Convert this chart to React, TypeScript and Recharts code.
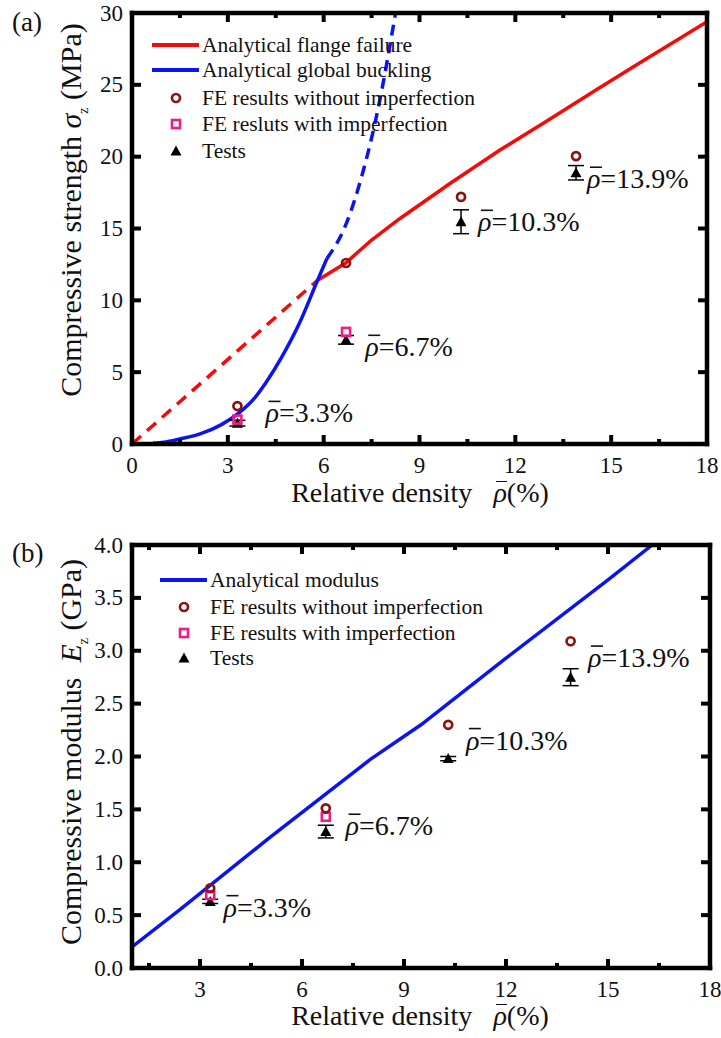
import React from "react";
import { ComposedChart, Line, Scatter, XAxis, YAxis, ErrorBar } from "recharts";

const FONT = "'Liberation Serif', 'Times New Roman', serif";
const RED = "#f50a0a";
const BLUE = "#0a14f0";
const DARKRED = "#8c1111";
const PINK = "#ee1c84";

// (a) compressive strength, MPa
const flangeDashX = [0, 5.81];
const flangeDashY = [0, 11.4];
const flangeX = [5.81, 6.69, 7.5, 8.39, 10, 11.52, 13, 14.5, 15.8, 18];
const flangeY = [11.4, 12.6, 14.2, 15.7, 18.2, 20.46, 22.5, 24.6, 26.4, 29.4];
const bucklingX = [0.66, 1, 1.5, 2.13, 2.8, 3.37, 3.8, 4.2, 4.7, 5.24, 5.81, 6.1];
const bucklingY = [0.05, 0.12, 0.35, 0.7, 1.35, 2.2, 3.1, 4.3, 6.1, 8.4, 11.4, 12.9];
const bucklingDashX = [6.1, 6.7, 7.2, 7.7, 8.25];
const bucklingDashY = [12.9, 15.3, 18.7, 23.3, 30];

const densities = [3.3, 6.7, 10.3, 13.9];
const densityLabels = ["3.3", "6.7", "10.3", "13.9"];

const strengthFE = [2.64, 12.6, 17.2, 20.04];
const strengthFEImpX = [3.3, 6.7];
const strengthFEImp = [1.7, 7.8];
const strengthTest = [1.45, 7.25, 15.47, 18.88];
const strengthTestErr = [0.2, 0.3, 0.83, 0.5];
const strengthLabelX = [4.18, 7.3, 10.83, 14.24];
const strengthLabelY = [2.2, 6.8, 15.5, 18.5];

// (b) compressive modulus, GPa
const modulusLineX = [1, 2.4, 5, 8, 9.5, 12, 15, 16.3];
const modulusLineY = [0.2, 0.55, 1.22, 1.97, 2.3, 2.93, 3.67, 4.0];
const modulusFE = [0.754, 1.51, 2.3, 3.09];
const modulusFEImpX = [3.3, 6.7];
const modulusFEImp = [0.69, 1.43];
const modulusTest = [0.63, 1.29, 1.98, 2.75];
const modulusTestErr = [0.02, 0.06, 0.02, 0.08];
const modulusLabelX = [3.69, 7.28, 10.82, 14.41];
const modulusLabelY = [0.58, 1.35, 2.16, 2.94];

const ticksA = [0, 1.5, 3, 4.5, 6, 7.5, 9, 10.5, 12, 13.5, 15, 16.5, 18];
const ticksB = [1.5, 3, 4.5, 6, 7.5, 9, 10.5, 12, 13.5, 15, 16.5, 18];
const yTicksA = [0, 5, 10, 15, 20, 25, 30];
const yTicksB = [0, 0.5, 1, 1.5, 2, 2.5, 3, 3.5, 4];

const rows = (xs: number[], ys: number[]) => xs.map((x, i) => ({ x, y: ys[i] }));

function BottomTick(p: any) {
  const v = p.payload.value;
  const major = Math.abs(v % 3) < 1e-6;
  return (
    <g>
      <line x1={p.x} x2={p.x} y1={p.y} y2={p.y - (major ? 9 : 5)} stroke="#000" strokeWidth={4} />
      {major && (
        <text x={p.x} y={p.y + 21} textAnchor="middle" dominantBaseline="central" fontFamily={FONT} fontSize={23} fill="#111">
          {v}
        </text>
      )}
    </g>
  );
}

function TopTick(p: any) {
  const v = p.payload.value;
  const major = Math.abs(v % 3) < 1e-6;
  return <line x1={p.x} x2={p.x} y1={p.y} y2={p.y + (major ? 9 : 5)} stroke="#000" strokeWidth={4} />;
}

function makeLeftTick(digits: number) {
  return function LeftTick(p: any) {
    const v = p.payload.value;
    return (
      <g>
        <line x1={p.x} x2={p.x + 9} y1={p.y} y2={p.y} stroke="#000" strokeWidth={4} />
        <text x={p.x - 9} y={p.y} textAnchor="end" dominantBaseline="central" fontFamily={FONT} fontSize={23} fill="#111">
          {v.toFixed(digits)}
        </text>
      </g>
    );
  };
}

function RightTick(p: any) {
  return <line x1={p.x} x2={p.x - 9} y1={p.y} y2={p.y} stroke="#000" strokeWidth={4} />;
}

const OpenCircle = (p: any) => (
  <circle cx={p.cx} cy={p.cy} r={4} fill="none" stroke={DARKRED} strokeWidth={2.7} />
);
const OpenSquare = (p: any) => (
  <rect x={p.cx - 4} y={p.cy - 4} width={8} height={8} fill="none" stroke={PINK} strokeWidth={2.6} />
);
const Triangle = (p: any) => (
  <path d={`M${p.cx},${p.cy - 5.5} L${p.cx + 5.5},${p.cy + 4.5} L${p.cx - 5.5},${p.cy + 4.5} Z`} fill="#000" />
);

// ρ with a bar on top, then "=x%"
const RhoLabel = (p: any) => (
  <g>
    <text x={p.cx} y={p.cy} dominantBaseline="central" fontFamily={FONT} fontSize={28} fill="#111">
      <tspan fontStyle="italic">ρ</tspan>
      <tspan>={p.payload.text}%</tspan>
    </text>
    <line x1={p.cx + 3} x2={p.cx + 15} y1={p.cy - 11} y2={p.cy - 11} stroke="#111" strokeWidth={1.6} />
  </g>
);

const axisLine = { stroke: "#000", strokeWidth: 4.5, strokeLinecap: "square" as const };

function Panel(props: {
  height: number;
  margin: { top: number; right: number; bottom: number; left: number };
  xDomain: [number, number];
  xTicks: number[];
  yDomain: [number, number];
  yTicks: number[];
  yDigits: number;
  children: React.ReactNode;
}) {
  const { height, margin, xDomain, xTicks, yDomain, yTicks, yDigits } = props;
  return (
    <ComposedChart width={721} height={height} margin={margin}>
      <XAxis xAxisId="b" type="number" dataKey="x" domain={xDomain} ticks={xTicks} interval={0} height={1} tickSize={0} tickMargin={0} tick={BottomTick} axisLine={axisLine} allowDataOverflow />
      <XAxis xAxisId="t" orientation="top" type="number" dataKey="x" domain={xDomain} ticks={xTicks} interval={0} height={1} tickSize={0} tickMargin={0} tick={TopTick} axisLine={axisLine} allowDataOverflow />
      <YAxis yAxisId="l" type="number" dataKey="y" domain={yDomain} ticks={yTicks} interval={0} width={1} tickSize={0} tickMargin={0} tick={makeLeftTick(yDigits)} axisLine={axisLine} allowDataOverflow />
      <YAxis yAxisId="r" orientation="right" type="number" dataKey="y" domain={yDomain} ticks={yTicks} interval={0} width={1} tickSize={0} tickMargin={0} tick={RightTick} axisLine={axisLine} allowDataOverflow />
      {props.children}
    </ComposedChart>
  );
}

const ids = { xAxisId: "b", yAxisId: "l" };

function LegendRow({ top, left, icon, text }: { top: number; left: number; icon: React.ReactNode; text: string }) {
  return (
    <div style={{ position: "absolute", top: top - 13, left, height: 26, display: "flex", alignItems: "center", whiteSpace: "nowrap" }}>
      <svg width={50} height={26} style={{ flex: "none" }}>
        {icon}
      </svg>
      <span style={{ fontSize: 21.5, color: "#111", marginLeft: 1 }}>{text}</span>
    </div>
  );
}

const lineIcon = (c: string) => <line x1={1} x2={48} y1={13} y2={13} stroke={c} strokeWidth={4} />;
const circleIcon = <OpenCircle cx={25} cy={13} />;
const squareIcon = <OpenSquare cx={25} cy={13} />;
const triIcon = <Triangle cx={25} cy={13} />;

function RhoBar() {
  return (
    <span style={{ position: "relative", display: "inline-block" }}>
      <i>ρ</i>
      <span style={{ position: "absolute", left: 3, right: 0, top: 5, borderTop: "1.6px solid #111" }} />
    </span>
  );
}

const yTitleStyle = (cx: number, cy: number): React.CSSProperties => ({
  position: "absolute",
  left: cx - 250,
  top: cy - 17,
  width: 500,
  height: 34,
  textAlign: "center",
  transform: "rotate(-90deg)",
  fontSize: 30,
  lineHeight: "34px",
  whiteSpace: "nowrap",
});

const xTitleStyle = (cy: number): React.CSSProperties => ({
  position: "absolute",
  left: 170,
  top: cy - 17,
  width: 500,
  textAlign: "center",
  fontSize: 28,
  lineHeight: "34px",
  whiteSpace: "nowrap",
});

export default function App() {
  const testsA = densities.map((x, i) => ({ x, y: strengthTest[i], err: strengthTestErr[i] }));
  const testsB = densities.map((x, i) => ({ x, y: modulusTest[i], err: modulusTestErr[i] }));
  const labelsA = strengthLabelX.map((x, i) => ({ x, y: strengthLabelY[i], text: densityLabels[i] }));
  const labelsB = modulusLabelX.map((x, i) => ({ x, y: modulusLabelY[i], text: densityLabels[i] }));

  return (
    <div style={{ position: "absolute", left: 0, top: 0, width: 721, height: 1038, fontFamily: FONT, color: "#111", background: "#fff", overflow: "hidden" }}>
      {/* (a) */}
      <div style={{ position: "absolute", left: 0, top: 0 }}>
        <Panel height={500} margin={{ top: 12, right: 13, bottom: 55, left: 131 }} xDomain={[0, 18]} xTicks={ticksA} yDomain={[0, 30]} yTicks={yTicksA} yDigits={0}>
          <Line {...ids} data={rows(flangeDashX, flangeDashY)} dataKey="y" stroke={RED} strokeWidth={3.5} strokeDasharray="12 8" dot={false} isAnimationActive={false} />
          <Line {...ids} data={rows(flangeX, flangeY)} dataKey="y" stroke={RED} strokeWidth={3.5} dot={false} isAnimationActive={false} />
          <Line {...ids} data={rows(bucklingX, bucklingY)} dataKey="y" type="monotone" stroke={BLUE} strokeWidth={3.5} dot={false} isAnimationActive={false} />
          <Line {...ids} data={rows(bucklingDashX, bucklingDashY)} dataKey="y" type="monotone" stroke={BLUE} strokeWidth={3.5} strokeDasharray="11 7" dot={false} isAnimationActive={false} />
          <Scatter {...ids} data={testsA} shape={Triangle} isAnimationActive={false}>
            <ErrorBar dataKey="err" direction="y" width={8} stroke="#000" strokeWidth={1.5} />
          </Scatter>
          <Scatter {...ids} data={rows(strengthFEImpX, strengthFEImp)} shape={OpenSquare} isAnimationActive={false} />
          <Scatter {...ids} data={rows(densities, strengthFE)} shape={OpenCircle} isAnimationActive={false} />
          <Scatter {...ids} data={labelsA} shape={RhoLabel} isAnimationActive={false} />
        </Panel>
      </div>
      <div style={{ position: "absolute", left: 12, top: 6, fontSize: 27, lineHeight: "32px" }}>(a)</div>
      <LegendRow top={45} left={151} icon={lineIcon(RED)} text="Analytical flange failure" />
      <LegendRow top={70} left={151} icon={lineIcon(BLUE)} text="Analytical global buckling" />
      <LegendRow top={98} left={151} icon={circleIcon} text="FE results without imperfection" />
      <LegendRow top={124} left={151} icon={squareIcon} text="FE resluts with imperfection" />
      <LegendRow top={151} left={151} icon={triIcon} text="Tests" />
      <div style={yTitleStyle(71, 210)}>
        Compressive strength <i>σ</i><sub style={{ fontSize: 14 }}>z</sub> (MPa)
      </div>
      <div style={xTitleStyle(493)}>
        Relative density &nbsp;&nbsp;<RhoBar />(%)
      </div>

      {/* (b) */}
      <div style={{ position: "absolute", left: 0, top: 500 }}>
        <Panel height={538} margin={{ top: 44, right: 10, bottom: 69, left: 131 }} xDomain={[1, 18]} xTicks={ticksB} yDomain={[0, 4]} yTicks={yTicksB} yDigits={1}>
          <Line {...ids} data={rows(modulusLineX, modulusLineY)} dataKey="y" stroke={BLUE} strokeWidth={3.5} dot={false} isAnimationActive={false} />
          <Scatter {...ids} data={testsB} shape={Triangle} isAnimationActive={false}>
            <ErrorBar dataKey="err" direction="y" width={8} stroke="#000" strokeWidth={1.5} />
          </Scatter>
          <Scatter {...ids} data={rows(modulusFEImpX, modulusFEImp)} shape={OpenSquare} isAnimationActive={false} />
          <Scatter {...ids} data={rows(densities, modulusFE)} shape={OpenCircle} isAnimationActive={false} />
          <Scatter {...ids} data={labelsB} shape={RhoLabel} isAnimationActive={false} />
        </Panel>
      </div>
      <div style={{ position: "absolute", left: 12, top: 537, fontSize: 27, lineHeight: "32px" }}>(b)</div>
      <LegendRow top={580} left={159} icon={lineIcon(BLUE)} text="Analytical modulus" />
      <LegendRow top={607} left={159} icon={circleIcon} text="FE results without imperfection" />
      <LegendRow top={633} left={159} icon={squareIcon} text="FE results with imperfection" />
      <LegendRow top={658} left={159} icon={triIcon} text="Tests" />
      <div style={yTitleStyle(71, 752)}>
        Compressive modulus &nbsp;<i>E</i><sub style={{ fontSize: 14 }}>z</sub> (GPa)
      </div>
      <div style={xTitleStyle(1016)}>
        Relative density &nbsp;&nbsp;<RhoBar />(%)
      </div>
    </div>
  );
}
